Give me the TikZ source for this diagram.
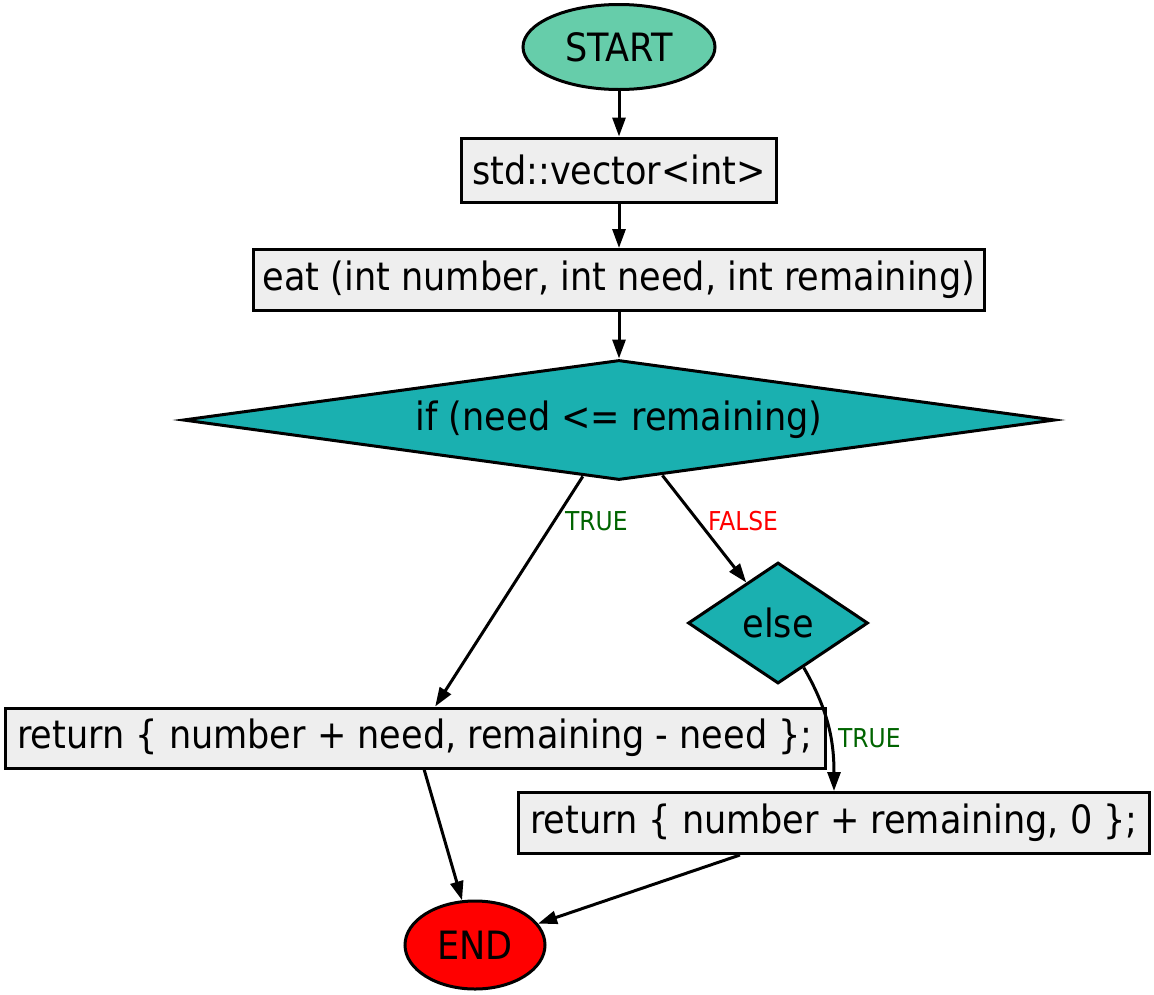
\documentclass[tikz,border=0pt]{standalone}
\usepackage{fontspec}
\setmainfont{DejaVu Sans Condensed}
\usetikzlibrary{shapes.geometric,arrows.meta}
\definecolor{startc}{HTML}{66CDAA}
\definecolor{condc}{HTML}{1AB0B0}
\definecolor{boxc}{HTML}{EEEEEE}
\definecolor{truec}{HTML}{006400}
\tikzset{
  base/.style={draw=black, line width=3pt, inner sep=0pt, font=\fontsize{39}{41}\selectfont},
  term/.style={base, ellipse},
  stepbox/.style={base, rectangle, fill=boxc},
  cond/.style={base, diamond, fill=condc},
  conn/.style={line width=3pt, -{Triangle[length=19pt,width=13pt]}},
  lbl/.style={font=\fontsize{26}{28}\selectfont, inner sep=0pt, anchor=west}
}
\begin{document}
\begin{tikzpicture}[x=1pt,y=-1pt]
\useasboundingbox (0,0) rectangle (1154,994);
\node[term, fill=startc, minimum width=192pt, minimum height=85pt] (start) at (619,47) {START};
\node[stepbox, minimum width=315pt, minimum height=64pt] (vec) at (619,170) {std::vector<int>};
\node[stepbox, minimum width=731pt, minimum height=61pt] (eat) at (619,280) {eat (int number, int need, int remaining)};
\node[cond, aspect=7.27, minimum width=872pt, minimum height=120pt] (if) at (619,420) {if (need <= remaining)};
\node[cond, aspect=1.5, minimum width=180pt, minimum height=121pt] (else) at (778,623) {else};
\node[stepbox, minimum width=820pt, minimum height=60pt] (ret1) at (415,738) {return \{ number + need, remaining - need \};};
\node[stepbox, minimum width=631pt, minimum height=61pt] (ret2) at (834,823) {return \{ number + remaining, 0 \};};
\node[term, fill=red, minimum width=140pt, minimum height=88pt] (end) at (475,945) {END};

\draw[conn] (start) -- (vec);
\draw[conn] (vec) -- (eat);
\draw[conn] (eat) -- (if);
\draw[conn] (if) -- (ret1);
\draw[conn] (if) -- (else);
\draw[conn] (else) to[out=-60, in=90] (ret2);
\draw[conn] (ret1) -- (end);
\draw[conn] (ret2) -- (end);

\node[lbl, text=truec] (t1) at (565,521) {TRUE};
\node[lbl, text=red] (f1) at (708,521) {FALSE};
\node[lbl, text=truec] (t2) at (838,738) {TRUE};
\end{tikzpicture}
\end{document}
